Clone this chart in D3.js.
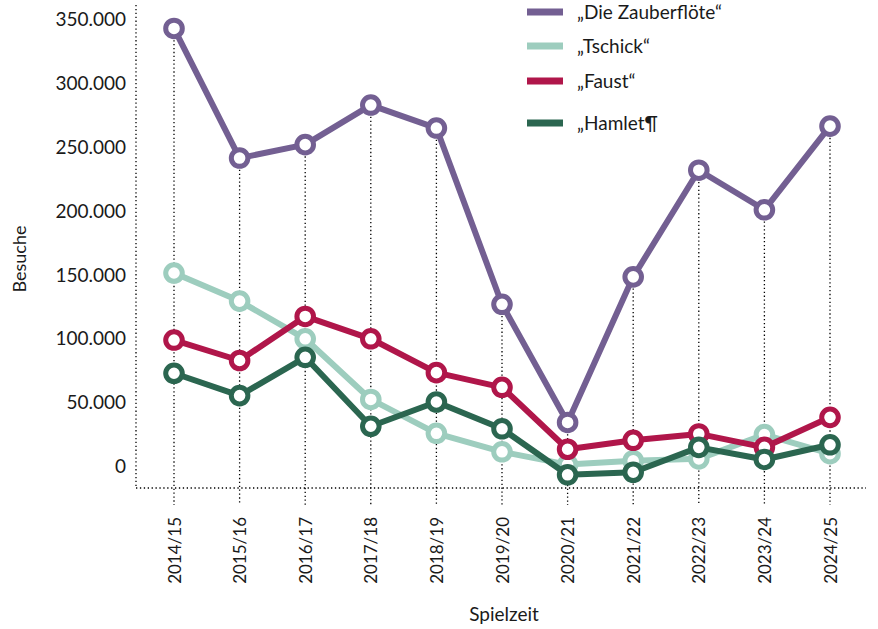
<!DOCTYPE html>
<html>
<head>
<meta charset="utf-8">
<script src="https://cdn.jsdelivr.net/npm/d3@7"></script>
<style>
  body { margin: 0; background: #fff; }
  svg text { font-family: Lato, "Open Sans", sans-serif; fill: #1a1a1a; }
</style>
</head>
<body>
<div id="main"></div>
<script>
const seasons = ["2014/15", "2015/16", "2016/17", "2017/18", "2018/19", "2019/20",
                 "2020/21", "2021/22", "2022/23", "2023/24", "2024/25"];

const zauberfloete = [343000, 241500, 252000, 283000, 265000, 127000, 34500, 148500, 232000, 201000, 266500];
const tschick      = [151500, 129500, 100000, 52500, 26000, 11500, 1500, 4500, 6000, 25000, 10000];
const faust        = [99000, 83000, 117500, 100000, 73500, 62000, 13500, 20500, 25500, 15000, 38500];
const hamlet       = [73000, 55500, 85500, 31500, 50500, 29500, -6500, -4500, 15000, 5500, 17000];

const seriesNames  = ["„Die Zauberflöte“", "„Tschick“", "„Faust“", "„Hamlet¶"];
const seriesColors = ["#735f92", "#9dcdbe", "#b0164a", "#2b6650"];
const yTicks = [0, 50000, 100000, 150000, 200000, 250000, 300000, 350000];

class GraficoLinhas {
  constructor(config) {
    this.config = config;
    this.svg = d3.select(config.div)
      .append("svg")
      .attr("width", config.width)
      .attr("height", config.height);
  }

  createScales() {
    this.x = d3.scalePoint().domain(seasons).range([174, 830]);
    this.y = d3.scaleLinear().domain([0, 350000]).range([466.5, 19.5]);
  }

  dotted(sel) {
    sel.attr("stroke", "#000")
      .attr("stroke-width", 1.3)
      .attr("stroke-dasharray", "1.3,2.6");
  }

  createAxis() {
    const c = this.config;
    const de = d3.formatLocale({ decimal: ",", thousands: ".", grouping: [3], currency: ["", " €"] });

    // dotted frame lines
    this.svg.append("line")
      .attr("x1", c.axisX).attr("x2", c.axisX)
      .attr("y1", 5).attr("y2", c.axisY)
      .call(this.dotted);
    this.svg.append("line")
      .attr("x1", c.axisX).attr("x2", 866)
      .attr("y1", c.axisY).attr("y2", c.axisY)
      .call(this.dotted);

    const yAxis = this.svg.append("g")
      .attr("transform", `translate(${c.axisX},0)`)
      .call(d3.axisLeft(this.y).tickValues(yTicks).tickSize(0).tickPadding(10).tickFormat(de.format(",")));
    yAxis.select(".domain").remove();
    yAxis.selectAll("text").style("font-size", "19px").attr("fill", "#1a1a1a");

    const xAxis = this.svg.append("g")
      .attr("transform", `translate(0,${c.axisY})`)
      .call(d3.axisBottom(this.x).tickSize(0));
    xAxis.select(".domain").remove();
    xAxis.selectAll("text")
      .style("font-size", "17px")
      .attr("fill", "#1a1a1a")
      .attr("transform", "rotate(-90)")
      .attr("x", -29)
      .attr("y", 0)
      .attr("dy", "0.36em")
      .attr("text-anchor", "end");

    this.svg.append("text")
      .attr("transform", "translate(26,259) rotate(-90)")
      .attr("text-anchor", "middle")
      .style("font-size", "18px")
      .text("Besuche");

    this.svg.append("text")
      .attr("x", 504)
      .attr("y", 621)
      .attr("text-anchor", "middle")
      .style("font-size", "19px")
      .text("Spielzeit");
  }

  createLines() {
    const c = this.config;
    const allSeries = [zauberfloete, tschick, faust, hamlet];

    // drop lines from the highest point down through the axis
    this.svg.append("g")
      .selectAll("line")
      .data(seasons)
      .join("line")
        .attr("x1", d => this.x(d))
        .attr("x2", d => this.x(d))
        .attr("y1", (d, i) => this.y(d3.max(allSeries, s => s[i])))
        .attr("y2", c.axisY + 17)
        .call(this.dotted);

    const line = d3.line()
      .x((d, i) => this.x(seasons[i]))
      .y(d => this.y(d));

    allSeries.forEach((values, k) => {
      const g = this.svg.append("g");
      g.append("path")
        .datum(values)
        .attr("d", line)
        .attr("fill", "none")
        .attr("stroke", seriesColors[k])
        .attr("stroke-width", 6)
        .attr("stroke-linejoin", "round");
      g.selectAll("circle")
        .data(values)
        .join("circle")
          .attr("cx", (d, i) => this.x(seasons[i]))
          .attr("cy", d => this.y(d))
          .attr("r", 8.3)
          .attr("fill", "#fff")
          .attr("stroke", seriesColors[k])
          .attr("stroke-width", 5);
    });
  }

  createLegend() {
    const rowY = [12, 46, 81, 123];
    const legend = this.svg.append("g");
    seriesNames.forEach((name, k) => {
      legend.append("line")
        .attr("x1", 527).attr("x2", 563)
        .attr("y1", rowY[k]).attr("y2", rowY[k])
        .attr("stroke", seriesColors[k])
        .attr("stroke-width", 7);
      legend.append("text")
        .attr("x", 577)
        .attr("y", rowY[k])
        .attr("dy", "0.35em")
        .style("font-size", "19px")
        .text(name);
    });
  }
}

function main() {
  const c = { div: "#main", width: 878, height: 629, axisX: 136, axisY: 488 };
  const chart = new GraficoLinhas(c);
  chart.createScales();
  chart.createAxis();
  chart.createLines();
  chart.createLegend();
}

main();
</script>
</body>
</html>
